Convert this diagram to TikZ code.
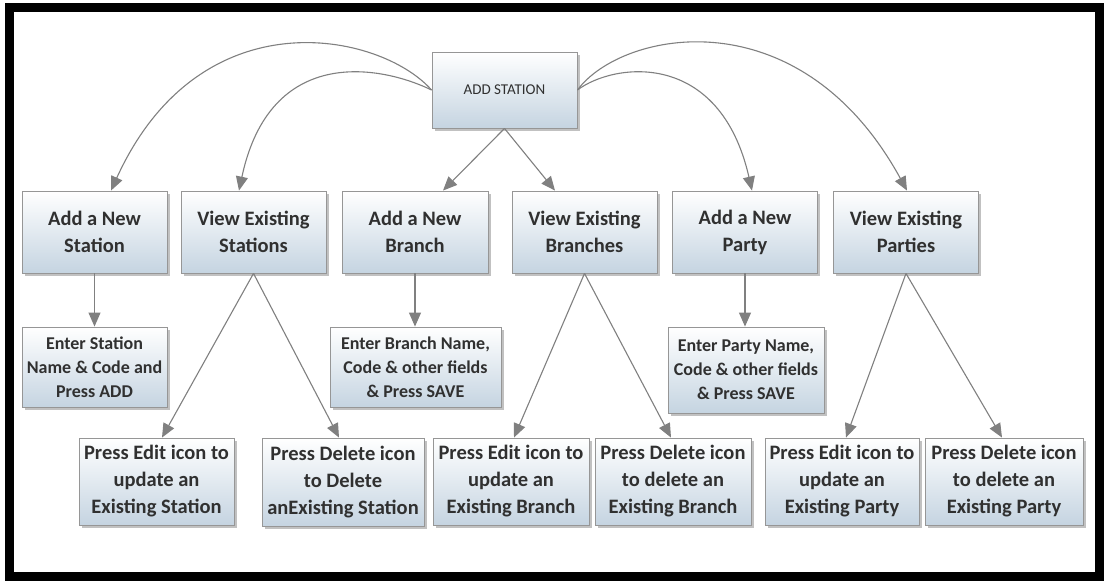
\documentclass[tikz,border=0pt]{standalone}
\usepackage{fontspec}
\setmainfont{Carlito}
\usetikzlibrary{arrows.meta,shadows}
\definecolor{boxblue}{RGB}{197,212,225}
\definecolor{linegray}{RGB}{128,128,128}
\definecolor{boxedge}{RGB}{150,150,150}
\definecolor{txt}{RGB}{48,48,48}
\tikzset{
  box/.style={draw=boxedge, line width=0.9pt, top color=white, bottom color=boxblue,
    align=center, text=txt, inner sep=2pt,
    drop shadow={shadow xshift=2.5pt, shadow yshift=-2.5pt, opacity=0.4, fill=black!60}},
  big/.style={font=\fontsize{20.5}{27}\selectfont\bfseries},
  mid/.style={font=\fontsize{18}{24}\selectfont\bfseries},
  arr/.style={draw=linegray, line width=1.1pt, -{Triangle[length=14pt,width=12pt]}, color=linegray}
}
\begin{document}
\begin{tikzpicture}[x=1pt,y=-1pt]
\useasboundingbox (0,0) rectangle (1104,581);
\fill[white] (0,0) rectangle (1104,581);
\draw[line width=9pt] (9.5,7) rectangle (1099,576.5);

% root
\node[box, minimum width=145pt, minimum height=76pt, font=\fontsize{15}{18}\selectfont] (root) at (504.5,90) {ADD STATION};

% row 1
\node[box, big, minimum width=145pt, minimum height=82pt] (s1) at (94.5,232) {Add a New\\Station};
\node[box, big, minimum width=145pt, minimum height=82pt] (s2) at (253.5,232) {View Existing\\Stations};
\node[box, big, minimum width=146pt, minimum height=82pt] (b1) at (415,232) {Add a New\\Branch};
\node[box, big, minimum width=145pt, minimum height=82pt] (b2) at (584.5,232) {View Existing\\Branches};
\node[box, big, minimum width=145pt, minimum height=82pt] (p1) at (745,232) {Add a New\\Party};
\node[box, big, minimum width=145pt, minimum height=82pt] (p2) at (906,232) {View Existing\\Parties};

% row 2
\node[box, mid, minimum width=145pt, minimum height=80pt] (s1e) at (94.5,367) {Enter Station\\Name \& Code and\\Press ADD};
\node[box, mid, minimum width=171pt, minimum height=80pt] (b1e) at (415.5,367) {Enter Branch Name,\\Code \& other fields\\\& Press SAVE};
\node[box, mid, minimum width=156pt, minimum height=86pt] (p1e) at (746,370) {Enter Party Name,\\Code \& other fields\\\& Press SAVE};

% row 3
\node[box, big, minimum width=155pt, minimum height=87pt] (s2a) at (156.5,481.5) {Press Edit icon to\\update an\\Existing Station};
\node[box, big, minimum width=162pt, minimum height=88pt] (s2b) at (343,482) {Press Delete icon\\to Delete\\anExisting Station};
\node[box, big, minimum width=156pt, minimum height=87pt] (b2a) at (511,481.5) {Press Edit icon to\\update an\\Existing Branch};
\node[box, big, minimum width=156pt, minimum height=87pt] (b2b) at (673,481.5) {Press Delete icon\\to delete an\\Existing Branch};
\node[box, big, minimum width=154pt, minimum height=87pt] (p2a) at (842,481.5) {Press Edit icon to\\update an\\Existing Party};
\node[box, big, minimum width=158pt, minimum height=87pt] (p2b) at (1004,481.5) {Press Delete icon\\to delete an\\Existing Party};

% connectors from root
\draw[arr] (root.west) .. controls (380,32) and (200,-5) .. ([xshift=16.5pt]s1.north);
\draw[arr] (root.west) .. controls (380,65) and (270,45) .. ([xshift=-14.5pt]s2.north);
\draw[arr] (root.south) -- ([xshift=28pt]b1.north);
\draw[arr] (root.south) -- ([xshift=-29.5pt]b2.north);
\draw[arr] (root.east) .. controls (615,62) and (720,50) .. ([xshift=7pt]p1.north);
\draw[arr] (root.east) .. controls (622,30) and (800,-5) .. ([xshift=1pt]p2.north);

% lower connectors
\draw[arr] (s1.south) -- (s1e.north);
\draw[arr] (b1.south) -- (b1.south |- b1e.north);
\draw[arr] (p1.south) -- (p1.south |- p1e.north);
\draw[arr] (s2.south) -- ([xshift=5.5pt]s2a.north);
\draw[arr] (s2.south) -- ([xshift=-4pt]s2b.north);
\draw[arr] (b2.south) -- ([xshift=3pt]b2a.north);
\draw[arr] (b2.south) -- ([xshift=-2pt]b2b.north);
\draw[arr] (p2.south) -- ([xshift=4pt]p2a.north);
\draw[arr] (p2.south) -- ([xshift=-2pt]p2b.north);
\end{tikzpicture}
\end{document}
